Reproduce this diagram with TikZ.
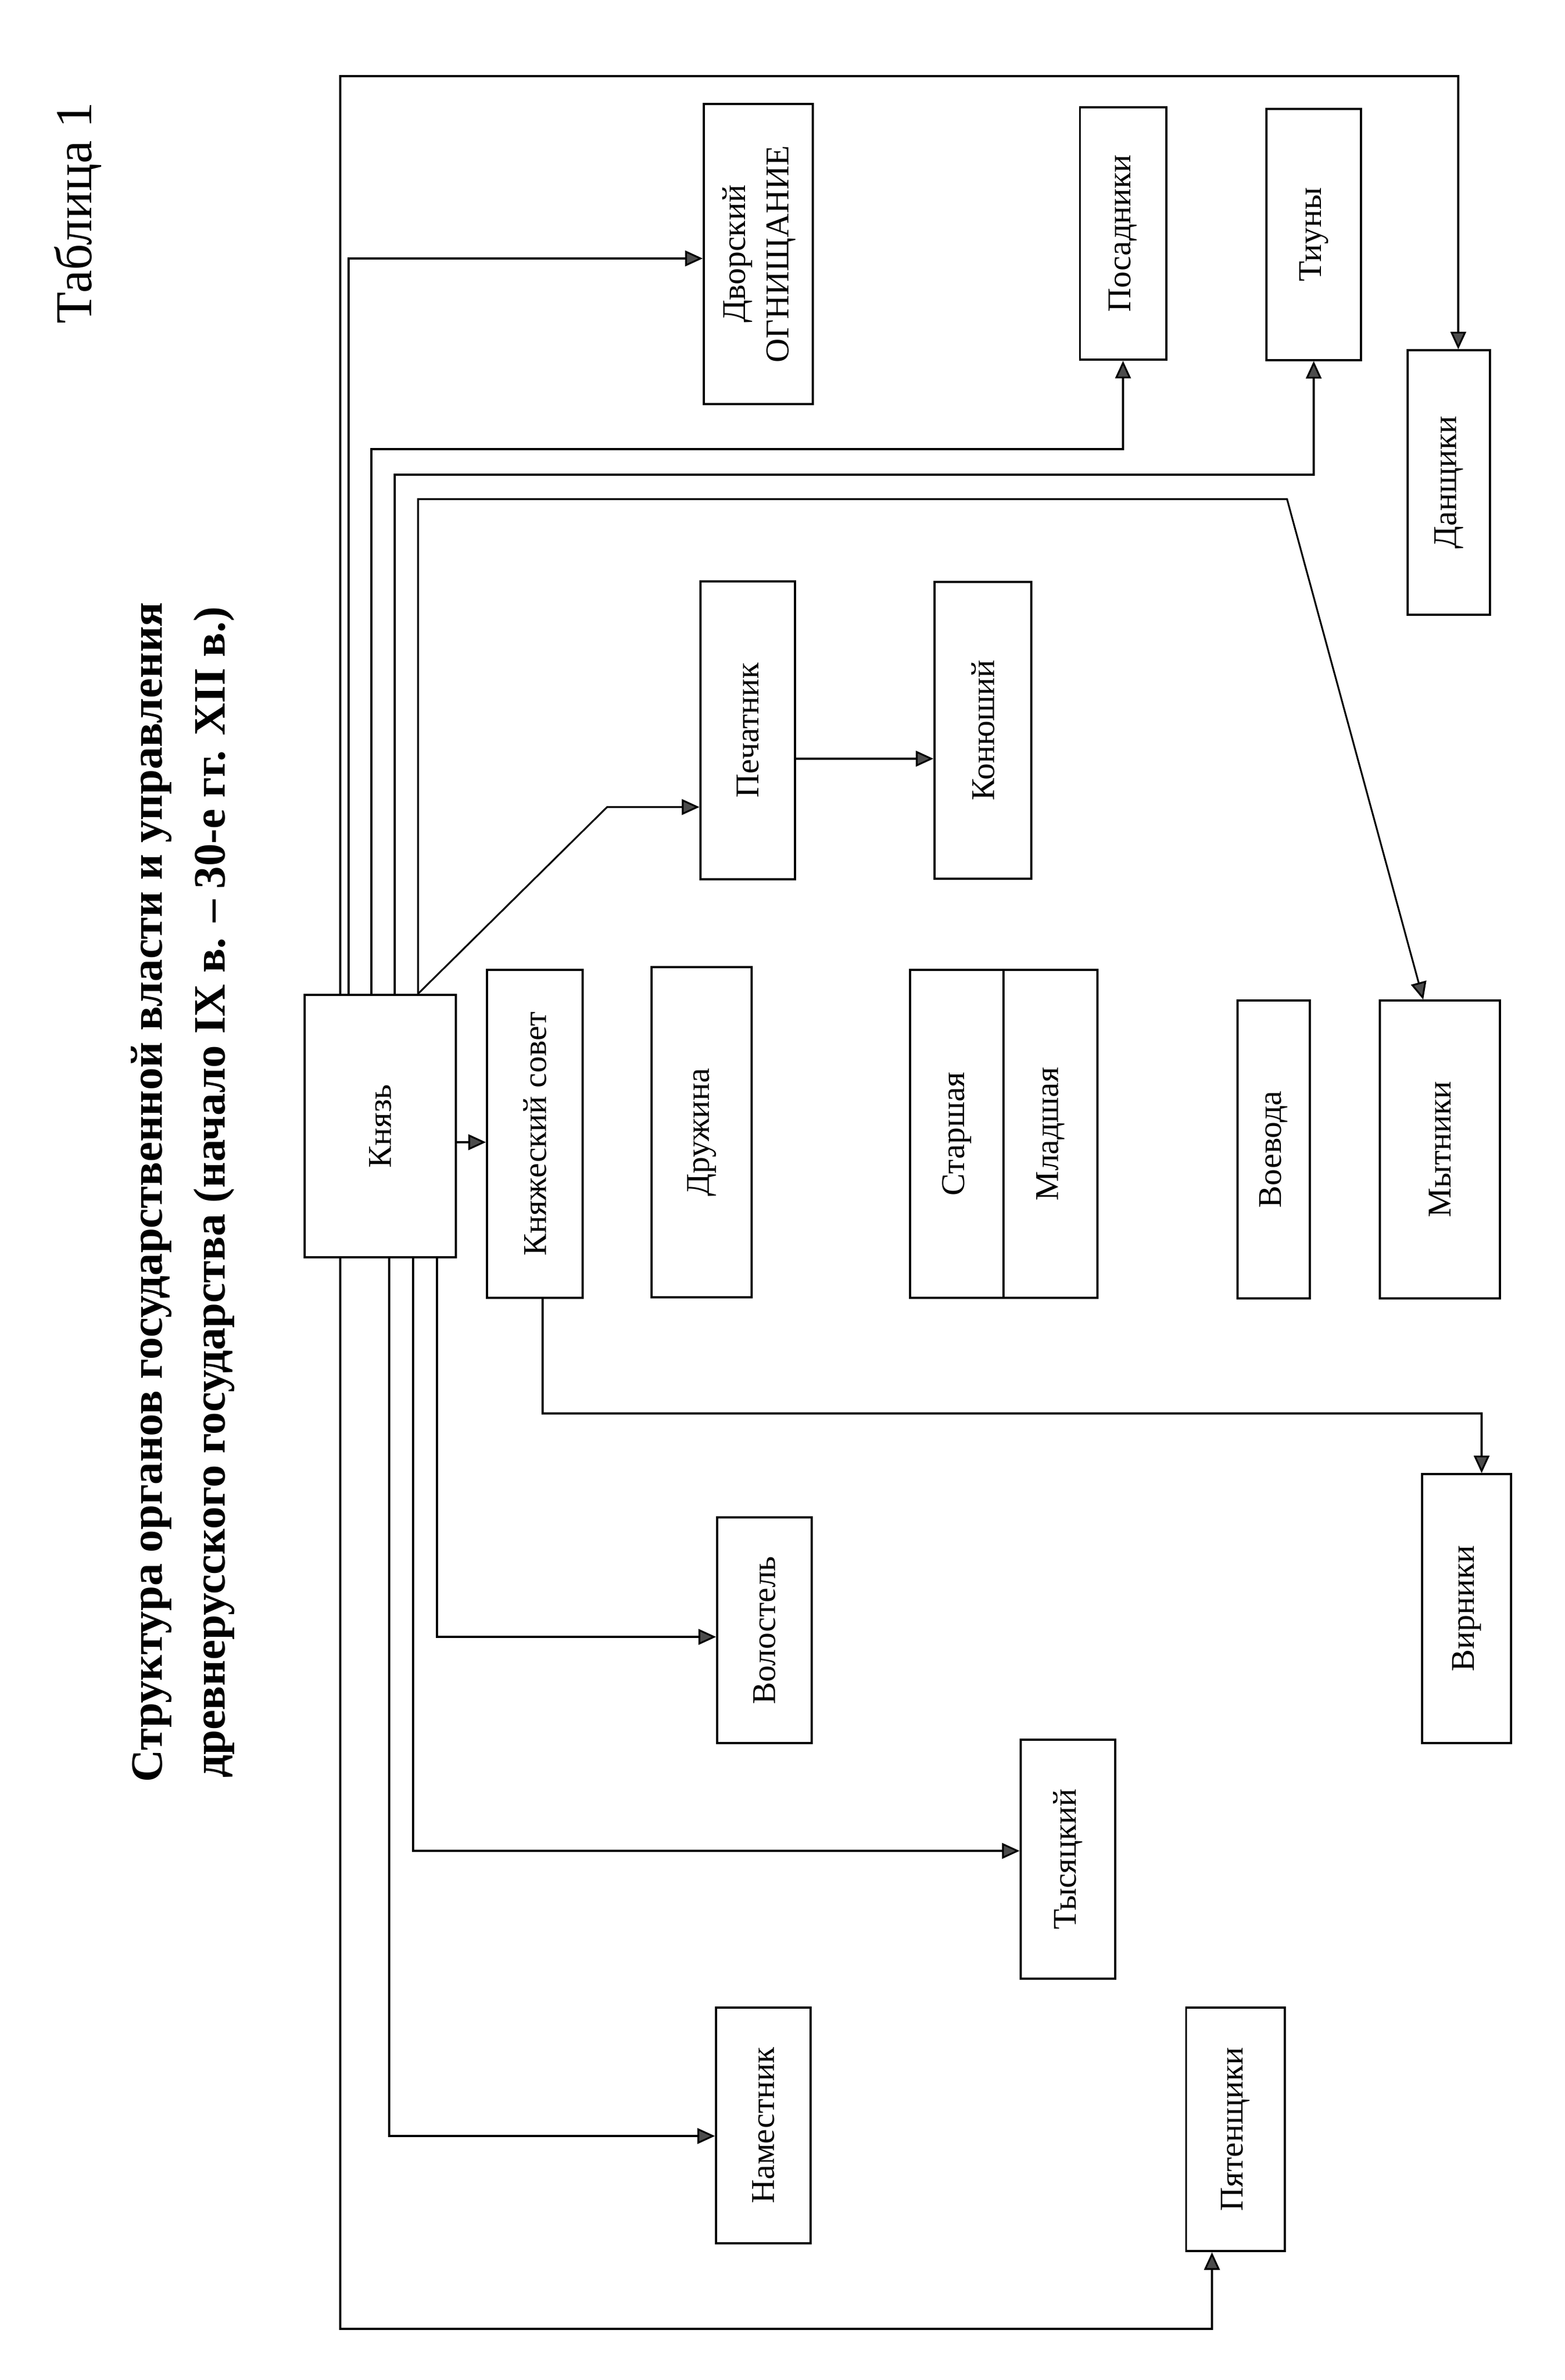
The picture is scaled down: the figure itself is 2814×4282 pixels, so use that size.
\documentclass[tikz,border=0pt]{standalone}
\usepackage{fontspec}
\setmainfont{Liberation Serif}
\usepackage{graphicx}
\usetikzlibrary{arrows.meta, positioning}
\tikzstyle{block} = [draw, fill=white, rectangle, line width=1.1pt, inner sep=0pt, font=\fontsize{17}{22}\selectfont]
\tikzstyle{line} = [draw, line width=0.9pt]
\newcommand{\vtext}[1]{\rotatebox{90}{#1}}
\newcommand{\twolines}[2]{\vtext{\begin{tabular}{@{}c@{}}#1\\#2\end{tabular}}}

\begin{document}
\begin{tikzpicture}[x=0.01cm, y=-0.01cm, >={Triangle[length=9pt,width=8pt,fill=black!70]}]
    \useasboundingbox [fill=white] (0,0) rectangle (2814,4282);
    % headings
    \node [rotate=90, font=\fontsize{26.5}{30}\selectfont] (tabl) at (140,383) {Таблица 1};
    \node [rotate=90, font=\fontsize{23}{28}\selectfont\bfseries] (title1) at (272,2145) {Структура органов государственной власти и управления};
    \node [rotate=90, font=\fontsize{23}{28}\selectfont\bfseries] (title2) at (385,2145) {древнерусского государства (начало IX в. – 30-е гг. XII в.)};
    % boxes
    \node [block, minimum width=2.72cm, minimum height=4.72cm] (knyaz) at (684,2026) {\vtext{Князь}};
    \node [block, minimum width=1.72cm, minimum height=5.90cm] (sovet) at (962,2040) {\vtext{Княжеский совет}};
    \node [block, minimum width=1.80cm, minimum height=5.93cm] (druzh) at (1262,2037) {\vtext{Дружина}};
    \node [block, minimum width=1.68cm, minimum height=5.90cm] (starsh) at (1721,2040) {\vtext{Старшая}};
    \node [block, minimum width=1.69cm, minimum height=5.90cm, right=-1.1pt of starsh] (mladsh) {\vtext{Младшая}};
    \node [block, minimum width=1.30cm, minimum height=5.35cm] (voevoda) at (2291,2068) {\vtext{Воевода}};
    \node [block, minimum width=2.16cm, minimum height=5.35cm] (mytn) at (2590,2068) {\vtext{Мытники}};
    \node [block, minimum width=1.96cm, minimum height=5.40cm] (dvor) at (1364,457) {\twolines{Дворский}{ОГНИЩАНИЕ}};
    \node [block, minimum width=1.55cm, minimum height=4.54cm] (posad) at (2020,420) {\vtext{Посадники}};
    \node [block, minimum width=1.70cm, minimum height=4.51cm] (tiun) at (2363,422) {\vtext{Тиуны}};
    \node [block, minimum width=1.48cm, minimum height=4.75cm] (dansh) at (2606,868) {\vtext{Данщики}};
    \node [block, minimum width=1.70cm, minimum height=5.35cm] (pechat) at (1345,1314) {\vtext{Печатник}};
    \node [block, minimum width=1.74cm, minimum height=5.33cm] (konyush) at (1768,1314) {\vtext{Конюший}};
    \node [block, minimum width=1.60cm, minimum height=4.83cm] (virn) at (2638,2894) {\vtext{Вирники}};
    \node [block, minimum width=1.70cm, minimum height=4.05cm] (volost) at (1375,2933) {\vtext{Волостель}};
    \node [block, minimum width=1.70cm, minimum height=4.30cm] (tysyach) at (1921,3345) {\vtext{Тысяцкий}};
    \node [block, minimum width=1.70cm, minimum height=4.23cm] (namest) at (1373,3824) {\vtext{Наместник}};
    \node [block, minimum width=1.77cm, minimum height=4.38cm] (pyaten) at (2222,3831) {\vtext{Пятенщики}};
    % bends of the connectors
    \coordinate (cDansh) at (612,137);
    \coordinate (cDvor) at (627,465);
    \coordinate (cPosad) at (668,808);
    \coordinate (cTiun) at (710,854);
    \coordinate (cMytn) at (752,898);
    \coordinate (cMytn2) at (2315,898);
    \coordinate (cPech) at (1092,1452);
    \coordinate (cKon) at (1430,1365);
    \coordinate (cSov) at (820,2055);
    \coordinate (cVirn) at (976,2543);
    \coordinate (cVol) at (786,2945);
    \coordinate (cTys) at (743,3330);
    \coordinate (cNam) at (700,3843);
    \coordinate (cPyat) at (612,4190);
    % upwards from the prince
    \draw [line,->] (cDansh |- knyaz.north) -- (cDansh) -| ([xshift=0.17cm]dansh.north);
    \draw [line,->] (cDvor |- knyaz.north) -- (cDvor) -- (cDvor -| dvor.west);
    \draw [line,->] (cPosad |- knyaz.north) -- (cPosad) -| (posad.south);
    \draw [line,->] (cTiun |- knyaz.north) -- (cTiun) -| (tiun.south);
    \draw [line,->] (cMytn |- knyaz.north) -- (cMytn) -- (cMytn2) -- ([xshift=-0.30cm]mytn.north);
    \draw [line,->] (cMytn |- knyaz.north) -- (cPech) -- (cPech -| pechat.west);
    \draw [line,->] (cKon -| pechat.east) -- (cKon -| konyush.west);
    \draw [line,->] (cSov -| knyaz.east) -- (cSov -| sovet.west);
    \draw [line,->] (cVirn |- sovet.south) -- (cVirn) -| ([xshift=0.27cm]virn.north);
    % downwards from the prince
    \draw [line,->] (cVol |- knyaz.south) -- (cVol) -- (cVol -| volost.west);
    \draw [line,->] (cTys |- knyaz.south) -- (cTys) -- (cTys -| tysyach.west);
    \draw [line,->] (cNam |- knyaz.south) -- (cNam) -- (cNam -| namest.west);
    \draw [line,->] (cPyat |- knyaz.south) -- (cPyat) -| ([xshift=-0.42cm]pyaten.south);
\end{tikzpicture}
\end{document}
